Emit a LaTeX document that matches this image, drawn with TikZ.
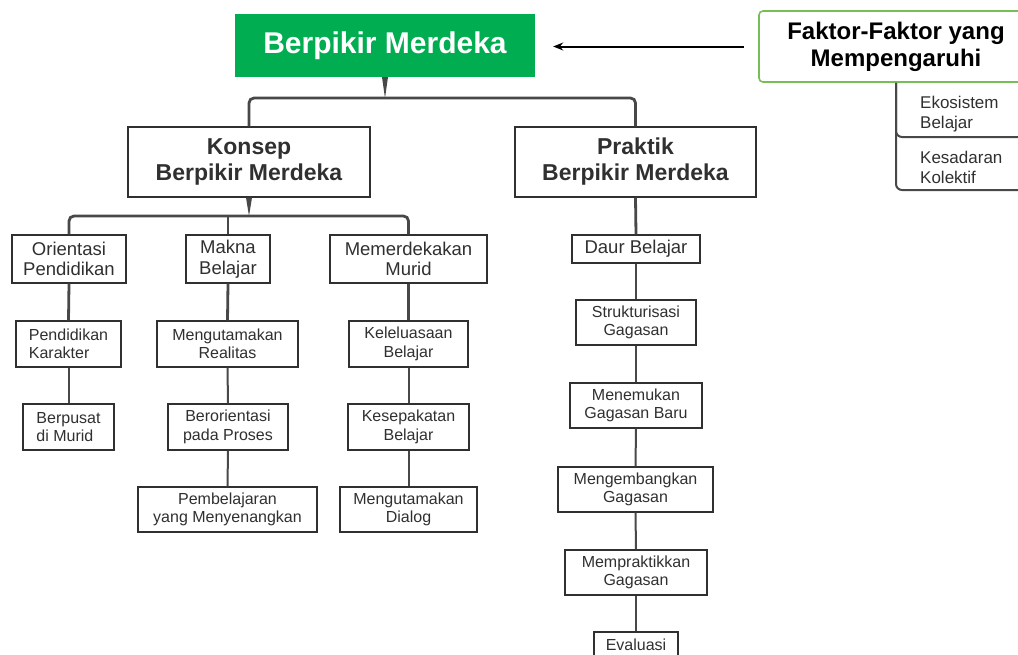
\documentclass[tikz,border=0pt]{standalone}
\usepackage{fontspec}
\setmainfont{Liberation Sans}
\usetikzlibrary{arrows.meta}

\newlength{\du}
\setlength{\du}{1pt}

\definecolor{rootgreen}{RGB}{0,174,81}
\definecolor{factorgreen}{RGB}{118,190,86}
\definecolor{linegray}{RGB}{72,72,72}
\definecolor{textgray}{RGB}{48,48,48}

\tikzset{
  topic/.style={draw=textgray, line width=1.4\du, fill=white, text=textgray,
    inner sep=0pt, align=center},
  roottopic/.style={fill=rootgreen, text=white, inner sep=0pt,
    font=\fontsize{30}{34}\selectfont\bfseries},
  maintopic/.style={topic, font=\fontsize{23}{26}\selectfont\bfseries},
  subtopic/.style={topic, font=\fontsize{18.5}{20.5}\selectfont},
  leaftopic/.style={topic, font=\fontsize{16}{18.5}\selectfont},
  factortopic/.style={draw=factorgreen, line width=1.6\du, rounded corners=4\du,
    fill=white, text=black, inner sep=0pt, align=center,
    font=\fontsize{24}{27}\selectfont\bfseries},
  sidetopic/.style={inner sep=0pt, inner xsep=8\du, text=textgray, align=left,
    font=\fontsize{17}{20}\selectfont},
  branch/.style={draw=linegray, line width=2.8\du, rounded corners=5\du},
  twig/.style={draw=linegray, line width=2\du, rounded corners=6\du},
  influence/.style={draw=black, line width=2pt, -{Stealth[length=10pt,width=8pt]}},
}

\begin{document}
\begin{tikzpicture}[x=\du,y=-\du]
\useasboundingbox (0,0) rectangle (1018,654);

% root and factors
\node[roottopic, minimum width=300\du, minimum height=63\du] (root) at (385,45.5) {Berpikir Merdeka};
\node[factortopic, minimum width=274\du, minimum height=71\du] (faktor) at (896,46.5) {Faktor-Faktor yang\\Mempengaruhi};
\draw[influence, shorten <=14pt, shorten >=18pt] (faktor.west) -- (faktor.west -| root.east);

\node[sidetopic, anchor=south west, text width=110\du, minimum height=45\du] (eko) at (912,137) {Ekosistem\\Belajar};
\node[sidetopic, anchor=south west, text width=110\du, minimum height=45\du] (kes) at (912,190) {Kesadaran\\Kolektif};
\draw[twig] (faktor.south) |- (eko.south east);
\draw[twig] (faktor.south) |- (kes.south east);

% main topics
\node[maintopic, minimum width=242\du, minimum height=70\du] (konsep) at (249,162) {Konsep\\Berpikir Merdeka};
\node[maintopic, minimum width=241\du, minimum height=70\du] (praktik) at (635.5,162) {Praktik\\Berpikir Merdeka};

\coordinate (rootbus) at (385,98);
\fill[linegray] ([xshift=-3\du]root.south) -- ([xshift=3\du]root.south) -- (rootbus) -- cycle;
\draw[branch] (konsep.north) |- (rootbus) -| (praktik.north);

% konsep
\node[subtopic, minimum width=114\du, minimum height=48\du] (orientasi) at (69,259) {Orientasi\\Pendidikan};
\node[subtopic, minimum width=84\du, minimum height=48\du] (makna) at (228,259) {Makna\\Belajar};
\node[subtopic, minimum width=157\du, minimum height=48\du] (memerdekakan) at (408.5,259) {Memerdekakan\\Murid};

\coordinate (konsepbus) at (249,216);
\fill[linegray] ([xshift=-3\du]konsep.south) -- ([xshift=3\du]konsep.south) -- (konsepbus) -- cycle;
\draw[branch] (orientasi.north) |- (konsepbus) -| (memerdekakan.north);
\draw[branch] (makna.north) -- (makna.north |- konsepbus);

\node[leaftopic, align=left, minimum width=105\du, minimum height=46\du] (karakter) at (68.5,344) {Pendidikan\\Karakter};
\node[leaftopic, align=left, minimum width=91\du, minimum height=46\du] (berpusat) at (68.5,427) {Berpusat\\di Murid};
\node[leaftopic, minimum width=141\du, minimum height=46\du] (realitas) at (227.5,344) {Mengutamakan\\Realitas};
\node[leaftopic, minimum width=120\du, minimum height=46\du] (proses) at (228,427) {Berorientasi\\pada Proses};
\node[leaftopic, minimum width=179\du, minimum height=45\du] (menyenangkan) at (227.5,509.5) {Pembelajaran\\yang Menyenangkan};
\node[leaftopic, minimum width=119\du, minimum height=46\du] (keleluasaan) at (408.5,344) {Keleluasaan\\Belajar};
\node[leaftopic, minimum width=121\du, minimum height=46\du] (kesepakatan) at (408.5,427) {Kesepakatan\\Belajar};
\node[leaftopic, minimum width=137\du, minimum height=45\du] (dialog) at (408.5,509.5) {Mengutamakan\\Dialog};

\draw[branch] (orientasi.south) -- (karakter.north);
\draw[twig] (karakter.south) -- (berpusat.north);
\draw[branch] (makna.south) -- (realitas.north);
\draw[twig] (realitas.south) -- (proses.north);
\draw[twig] (proses.south) -- (menyenangkan.north);
\draw[branch] (memerdekakan.south) -- (keleluasaan.north);
\draw[twig] (keleluasaan.south) -- (kesepakatan.north);
\draw[twig] (kesepakatan.south) -- (dialog.north);

% praktik
\node[subtopic, minimum width=128\du, minimum height=28\du] (daur) at (636,249) {Daur Belajar};
\node[leaftopic, minimum width=120\du, minimum height=45\du] (strukturisasi) at (636,322.5) {Strukturisasi\\Gagasan};
\node[leaftopic, minimum width=132\du, minimum height=45\du] (menemukan) at (636,405.5) {Menemukan\\Gagasan Baru};
\node[leaftopic, minimum width=155\du, minimum height=45\du] (mengembangkan) at (635.5,489.5) {Mengembangkan\\Gagasan};
\node[leaftopic, minimum width=142\du, minimum height=45\du] (mempraktikkan) at (636,572.5) {Mempraktikkan\\Gagasan};
\node[leaftopic, minimum width=84\du, minimum height=26\du] (evaluasi) at (636,645) {Evaluasi};

\draw[branch] (praktik.south) -- (daur.north);
\draw[branch] (daur.south) -- (strukturisasi.north);
\draw[twig] (strukturisasi.south) -- (menemukan.north);
\draw[twig] (menemukan.south) -- (mengembangkan.north);
\draw[twig] (mengembangkan.south) -- (mempraktikkan.north);
\draw[twig] (mempraktikkan.south) -- (evaluasi.north);
\end{tikzpicture}
\end{document}
